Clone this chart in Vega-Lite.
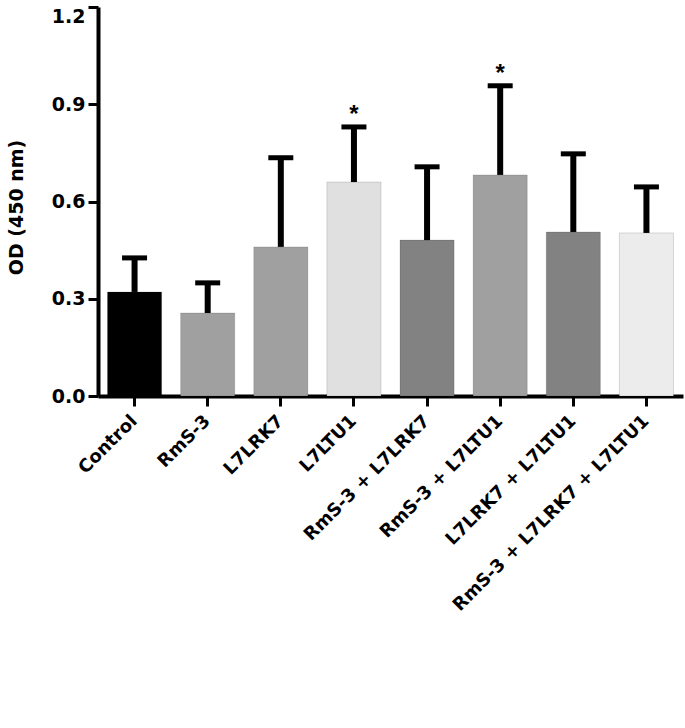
{
  "$schema": "https://vega.github.io/schema/vega-lite/v6.json",
  "autosize": {"type": "none"},
  "width": 585,
  "height": 389,
  "padding": {"left": 98, "top": 7, "right": 2, "bottom": 332},
  "background": "white",
  "config": {
    "view": {"stroke": null},
    "font": "DejaVu Sans"
  },
  "data": {
    "values": [
      {"group": "Control", "od": 0.321, "upper": 0.426, "sig": "", "color": "#000000"},
      {"group": "RmS-3", "od": 0.256, "upper": 0.349, "sig": "", "color": "#a0a0a0"},
      {"group": "L7LRK7", "od": 0.46, "upper": 0.735, "sig": "", "color": "#a0a0a0"},
      {"group": "L7LTU1", "od": 0.66, "upper": 0.83, "sig": "*", "color": "#e0e0e0"},
      {"group": "RmS-3 + L7LRK7", "od": 0.481, "upper": 0.707, "sig": "", "color": "#828282"},
      {"group": "RmS-3 + L7LTU1", "od": 0.682, "upper": 0.957, "sig": "*", "color": "#a0a0a0"},
      {"group": "L7LRK7 + L7LTU1", "od": 0.506, "upper": 0.747, "sig": "", "color": "#828282"},
      {"group": "RmS-3 + L7LRK7 + L7LTU1", "od": 0.503, "upper": 0.645, "sig": "", "color": "#ececec"}
    ]
  },
  "encoding": {
    "x": {
      "field": "group",
      "type": "nominal",
      "sort": null,
      "scale": {"paddingInner": 0.26, "paddingOuter": 0.13},
      "axis": {
        "title": null,
        "domainWidth": 4,
        "domainColor": "black",
        "tickColor": "black",
        "tickWidth": 3,
        "tickSize": 10,
        "labelAngle": -45,
        "labelAlign": "right",
        "labelBaseline": "middle",
        "labelPadding": 12,
        "labelFont": "DejaVu Sans",
        "labelFontWeight": "bold",
        "labelFontSize": 18,
        "labelColor": "black",
        "labelLimit": 0
      }
    }
  },
  "layer": [
    {
      "mark": {"type": "bar", "stroke": "#00000022", "strokeWidth": 1},
      "encoding": {
        "y": {
          "field": "od",
          "type": "quantitative",
          "scale": {"domain": [0, 1.2], "nice": false, "zero": true},
          "axis": {
            "title": "OD (450 nm)",
            "titleFont": "DejaVu Sans",
            "titleFontWeight": "bold",
            "titleFontSize": 19,
            "titleColor": "black",
            "titleAngle": -90,
            "titleX": -76,
            "titleY": 200,
            "titleAlign": "center",
            "titleBaseline": "alphabetic",
            "values": [0, 0.3, 0.6, 0.9, 1.2],
            "format": ".1f",
            "grid": false,
            "domainWidth": 4,
            "domainColor": "black",
            "tickColor": "black",
            "tickWidth": 3,
            "tickSize": 10,
            "labelPadding": 3,
            "labelFont": "DejaVu Sans",
            "labelFontWeight": "bold",
            "labelFontSize": 19,
            "labelColor": "black",
            "labelBaseline": {"condition": {"test": "datum.value >= 1.2", "value": "top"}, "value": "middle"}
          }
        },
        "color": {"field": "color", "type": "nominal", "scale": null, "legend": null}
      }
    },
    {
      "mark": {"type": "rule", "color": "black", "strokeWidth": 6},
      "encoding": {
        "y": {"field": "od", "type": "quantitative"},
        "y2": {"field": "upper"}
      }
    },
    {
      "mark": {"type": "tick", "color": "black", "opacity": 1, "size": 25, "thickness": 5, "orient": "horizontal"},
      "encoding": {
        "y": {"field": "upper", "type": "quantitative"}
      }
    },
    {
      "transform": [{"filter": "datum.sig !== ''"}],
      "mark": {"type": "text", "fontSize": 24, "font": "Liberation Sans", "fontWeight": "bold", "color": "black", "baseline": "alphabetic", "dy": -5},
      "encoding": {
        "y": {"field": "upper", "type": "quantitative"},
        "text": {"field": "sig"}
      }
    }
  ]
}
